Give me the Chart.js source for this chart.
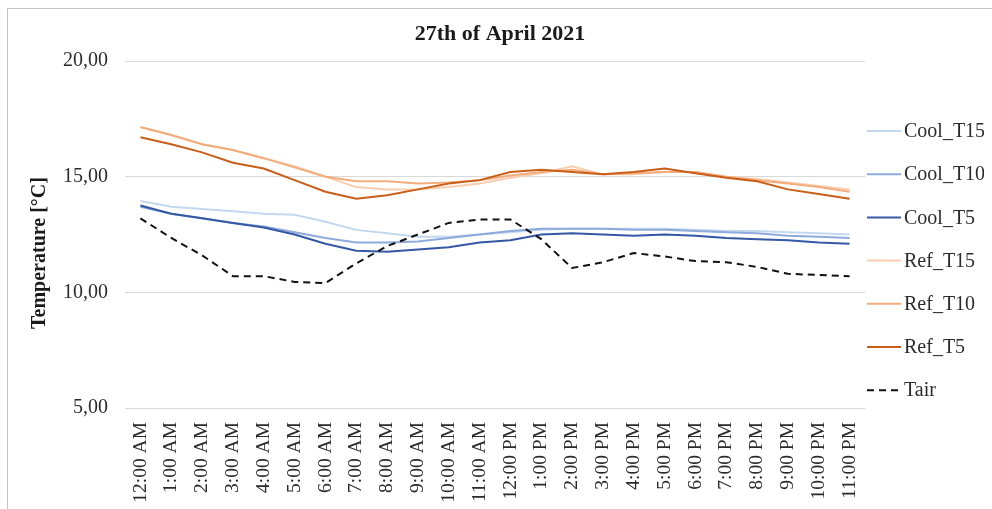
<!DOCTYPE html>
<html>
<head>
<meta charset="utf-8">
<script src="https://cdn.jsdelivr.net/npm/chart.js@4.4.1/dist/chart.umd.min.js"></script>
<style>
  html, body { margin: 0; padding: 0; background: #fff; overflow: hidden; }
  /* marco gris del gráfico (solo se ven los bordes izquierdo y superior) */
  .frame {
    position: absolute;
    left: 7px;
    top: 8px;
    width: 1000px;
    height: 520px;
    border-left: 1px solid #c4c4c4;
    border-top: 1px solid #c4c4c4;
  }
  #tempChart { position: absolute; left: 0; top: 0; }
</style>
</head>
<body>
<div class="frame">
  <canvas id="tempChart" width="976" height="500"></canvas>
</div>
<script>
  const hours = [
    "12:00 AM", "1:00 AM", "2:00 AM", "3:00 AM", "4:00 AM", "5:00 AM",
    "6:00 AM", "7:00 AM", "8:00 AM", "9:00 AM", "10:00 AM", "11:00 AM",
    "12:00 PM", "1:00 PM", "2:00 PM", "3:00 PM", "4:00 PM", "5:00 PM",
    "6:00 PM", "7:00 PM", "8:00 PM", "9:00 PM", "10:00 PM", "11:00 PM"
  ];

  const coolT15 = [13.95, 13.7, 13.6, 13.5, 13.4, 13.35, 13.05, 12.7, 12.55, 12.4, 12.4, 12.5,
                   12.6, 12.7, 12.75, 12.75, 12.75, 12.75, 12.7, 12.65, 12.65, 12.6, 12.55, 12.5];
  const coolT10 = [13.7, 13.4, 13.2, 13.0, 12.85, 12.6, 12.35, 12.15, 12.15, 12.2, 12.35, 12.5,
                   12.65, 12.75, 12.75, 12.75, 12.7, 12.7, 12.65, 12.6, 12.55, 12.45, 12.4, 12.35];
  const coolT5 = [13.75, 13.4, 13.2, 13.0, 12.8, 12.5, 12.1, 11.8, 11.75, 11.85, 11.95, 12.15,
                  12.25, 12.5, 12.55, 12.5, 12.45, 12.5, 12.45, 12.35, 12.3, 12.25, 12.15, 12.1];
  const refT15 = [17.15, 16.8, 16.4, 16.15, 15.8, 15.45, 15.0, 14.55, 14.45, 14.45, 14.55, 14.7,
                  14.95, 15.15, 15.45, 15.1, 15.1, 15.2, 15.2, 15.0, 14.9, 14.75, 14.6, 14.45];
  const refT10 = [17.15, 16.8, 16.4, 16.15, 15.8, 15.4, 15.0, 14.8, 14.8, 14.7, 14.75, 14.85,
                  15.05, 15.2, 15.3, 15.1, 15.15, 15.2, 15.2, 15.0, 14.85, 14.7, 14.55, 14.35];
  const refT5 = [16.7, 16.4, 16.05, 15.6, 15.35, 14.85, 14.35, 14.05, 14.2, 14.45, 14.7, 14.85,
                 15.2, 15.3, 15.2, 15.1, 15.2, 15.35, 15.15, 14.95, 14.8, 14.45, 14.25, 14.05];
  const tair = [13.2, 12.35, 11.6, 10.7, 10.7, 10.45, 10.4, 11.25, 12.0, 12.5, 13.0, 13.15,
                13.15, 12.3, 11.05, 11.3, 11.7, 11.55, 11.35, 11.3, 11.1, 10.8, 10.75, 10.7];

  const yTicks = [5, 10, 15, 20];

  const FONT = "'Liberation Serif', 'Times New Roman', serif";
  const TEXT = "#2b2b2b";

  const series = [
    { label: "Cool_T15", data: coolT15, color: "#c3d8ef" },
    { label: "Cool_T10", data: coolT10, color: "#8eaadc" },
    { label: "Cool_T5", data: coolT5, color: "#3458a4" },
    { label: "Ref_T15", data: refT15, color: "#f9ceb0" },
    { label: "Ref_T10", data: refT10, color: "#f3ad7d" },
    { label: "Ref_T5", data: refT5, color: "#c85e17" },
    { label: "Tair", data: tair, color: "#111111", dash: [7, 5] }
  ];

  // Título, título del eje Y y leyenda dibujados a mano para fijar sus posiciones
  const chartTexts = {
    id: "chartTexts",
    afterDraw(chart) {
      const ctx = chart.ctx;
      ctx.save();

      ctx.fillStyle = "#1a1a1a";
      ctx.textAlign = "center";
      ctx.textBaseline = "middle";
      ctx.font = "bold 22px " + FONT;
      ctx.fillText("27th of April 2021", 492, 25);

      ctx.save();
      ctx.translate(32, 244);
      ctx.rotate(-Math.PI / 2);
      ctx.font = "bold 20px " + FONT;
      ctx.fillText("Temperature [°C]", 0, 0);
      ctx.restore();

      ctx.font = "20px " + FONT;
      ctx.textAlign = "left";
      chart.data.datasets.forEach((ds, i) => {
        const y = 122 + i * 43.2;
        ctx.beginPath();
        ctx.setLineDash(ds.borderDash || []);
        ctx.strokeStyle = ds.borderColor;
        ctx.lineWidth = 2;
        ctx.moveTo(859, y);
        ctx.lineTo(893, y);
        ctx.stroke();
        ctx.setLineDash([]);
        ctx.fillStyle = TEXT;
        ctx.fillText(ds.label, 896, y + 1);
      });
      ctx.restore();
    }
  };

  new Chart(document.getElementById("tempChart"), {
    type: "line",
    data: {
      labels: hours,
      datasets: series.map((s, i) => ({
        label: s.label,
        data: s.data,
        borderColor: s.color,
        backgroundColor: s.color,
        borderWidth: 2,
        borderDash: s.dash || [],
        pointRadius: 0,
        tension: 0,
        fill: false,
        order: series.length - i // la última serie queda encima, como en Excel
      }))
    },
    options: {
      responsive: false,
      animation: false,
      layout: { padding: { left: 0, right: 119, top: 52, bottom: 0 } },
      plugins: {
        legend: { display: false },
        tooltip: { enabled: false },
        title: { display: false }
      },
      scales: {
        x: {
          offset: true,
          grid: { display: false, drawTicks: false },
          border: { display: false },
          ticks: {
            color: TEXT,
            font: { family: FONT, size: 19.5 },
            minRotation: 90,
            maxRotation: 90,
            autoSkip: false,
            padding: 14
          },
          afterFit(scale) { scale.height = 101; }
        },
        y: {
          min: 5,
          max: 20,
          afterBuildTicks(scale) { scale.ticks = yTicks.map((v) => ({ value: v })); },
          grid: { color: "#d9d9d9", lineWidth: 1, drawTicks: false },
          border: { display: false },
          ticks: {
            color: TEXT,
            font: { family: FONT, size: 20 },
            padding: 17,
            callback: (v) => v.toFixed(2).replace(".", ",")
          },
          afterFit(scale) { scale.width = 117; }
        }
      }
    },
    plugins: [chartTexts]
  });
</script>
</body>
</html>
